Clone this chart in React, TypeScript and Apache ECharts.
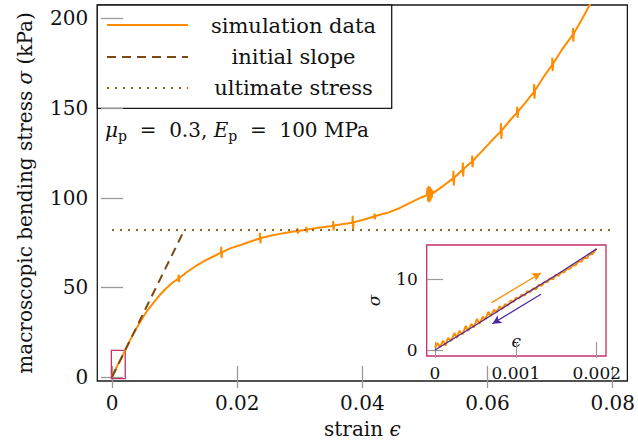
import React, { useEffect, useRef } from "react";
import * as echarts from "echarts";

const FONT = "'DejaVu Serif', serif";
const ORANGE = "#ff8c00";
const SLOPE = "#7a4a12";
const ULT = "#9a6320";
const CRIMSON = "#c2306a";
const PURPLE = "#4a2a9e";
const TICK = "#9a9a9a";

// tick values
const mainXTicks = [0, 0.02, 0.04, 0.06, 0.08];
const mainYTicks = [0, 50, 100, 150, 200];
const insetXTicks = [0, 0.001, 0.002];
const insetYTicks = [0, 10];

// initial loading segment (also shown in the inset)
const loadStrain = [0, 0.00003, 0.00006, 0.0001, 0.00013, 0.00016, 0.0002, 0.00024, 0.00027, 0.0003, 0.00034, 0.00038, 0.00041, 0.00045, 0.00048, 0.00052, 0.00055, 0.00059, 0.00062, 0.00066, 0.00069, 0.00073, 0.00076, 0.0008, 0.00083, 0.00087, 0.0009, 0.00094, 0.00097, 0.001, 0.00104, 0.00107, 0.00111, 0.00114, 0.00118, 0.00121, 0.00125, 0.00128, 0.00132, 0.00135, 0.00139, 0.00142, 0.00146, 0.00149, 0.00153, 0.00156, 0.0016, 0.00163, 0.00167, 0.0017, 0.00174, 0.00177, 0.00181, 0.00184, 0.00188, 0.00191, 0.00195, 0.00198, 0.002];
const loadStress = [0.3, 1.0, 0.4, 1.3, 0.6, 1.7, 1.3, 2.4, 1.7, 2.7, 2.2, 3.4, 2.7, 3.7, 3.2, 4.4, 3.7, 4.7, 4.3, 5.4, 4.8, 5.7, 5.3, 6.2, 5.8, 6.5, 6.3, 7.0, 6.8, 7.4, 7.3, 7.8, 7.7, 8.3, 8.2, 8.7, 8.6, 9.2, 9.1, 9.6, 9.6, 10.1, 10.0, 10.6, 10.5, 11.0, 11.0, 11.5, 11.5, 12.0, 12.0, 12.5, 12.5, 13.0, 13.0, 13.5, 13.6, 14.1, 14.3];

// rest of the simulation curve (with its short vertical jitters)
const mainStrain = [
  0.0025, 0.003, 0.004, 0.005, 0.0058, 0.0067, 0.0076, 0.0085, 0.0095,
  0.0106, 0.01065, 0.0107, 0.0108, 0.012, 0.0135, 0.015, 0.0165,
  0.0174, 0.01745, 0.0175, 0.0176, 0.019, 0.021, 0.0225,
  0.0236, 0.02365, 0.0237, 0.0238, 0.0255, 0.027, 0.0285,
  0.0296, 0.02965, 0.0297, 0.0298, 0.031, 0.03105, 0.0311, 0.0312, 0.033, 0.0345,
  0.0353, 0.03535, 0.0354, 0.0355, 0.037, 0.0384, 0.03845, 0.0385, 0.0386, 0.04,
  0.0419, 0.04195, 0.042, 0.0421, 0.044, 0.046, 0.048, 0.0495,
  0.0503, 0.0504, 0.0505, 0.0506, 0.0507, 0.0508, 0.0509, 0.051, 0.0511, 0.0512, 0.0513, 0.053,
  0.0545, 0.05455, 0.0546, 0.0547, 0.056, 0.05605, 0.0561, 0.0562, 0.0575, 0.05755, 0.0576, 0.0577,
  0.059, 0.0605, 0.0621, 0.06215, 0.0622, 0.0623, 0.0635, 0.0647, 0.06475, 0.0648, 0.0649, 0.066,
  0.0674, 0.06745, 0.0675, 0.0676, 0.069, 0.0703, 0.07035, 0.0704, 0.0705, 0.072,
  0.0736, 0.07365, 0.0737, 0.0738, 0.075, 0.0763, 0.0772,
];
const mainStress = [
  17.8, 21.3, 27.8, 33.6, 37.8, 41.8, 45.6, 49.0, 52.2,
  55.0, 57.2, 53.0, 55.4, 58.6, 62.2, 65.2, 67.8,
  69.4, 72.6, 66.4, 69.7, 71.9, 74.2, 76.0,
  77.3, 80.4, 74.6, 77.6, 79.0, 80.0, 80.9,
  81.4, 83.0, 80.0, 81.5, 82.1, 83.8, 80.6, 82.3, 83.3, 84.0,
  84.3, 87.0, 81.8, 84.5, 85.3, 86.0, 90.0, 82.4, 86.3, 87.6,
  89.5, 91.2, 88.0, 89.8, 91.6, 94.3, 97.8, 100.3,
  101.5, 105.5, 98.0, 106.5, 97.5, 106.0, 98.5, 105.0, 100.0, 104.0, 102.6, 106.8,
  110.8, 115.0, 106.8, 111.3, 115.6, 119.6, 111.8, 116.2, 120.2, 123.6, 117.0, 120.8,
  125.6, 131.2, 137.0, 141.6, 132.8, 137.7, 142.8, 147.5, 150.8, 144.6, 148.3, 152.8,
  159.0, 163.4, 155.2, 160.0, 167.6, 174.0, 178.0, 170.6, 174.9, 183.2,
  190.8, 194.6, 187.0, 191.8, 199.0, 207.5, 213.0,
];

// unloading path in the inset
const unloadStrain = [0.002, 0.0015, 0.001, 0.0005, 0];
const unloadStress = [14.3, 10.6, 7.1, 3.5, 0];

// reference lines
const slopeStrain = [0, 0.01155];
const slopeStress = [0, 82];
const ultStrain = [0, 0.08];
const ultStress = [82, 82];

// inset region and arrows (data coordinates)
const insetXRange = [-0.000103, 0.002115];
const insetYRange = [-0.85, 14.85];
const loadArrow = [[0.0007, 6.7], [0.00131, 10.9]];
const unloadArrow = [[0.00131, 7.9], [0.00071, 3.7]];

const zip = (xs: number[], ys: number[]) => xs.map((x, i) => [x, ys[i]]);

function tickAxis(extra: any) {
  return {
    type: "value",
    axisLine: { show: false },
    splitLine: { show: false },
    ...extra,
  };
}

const option: any = {
  animation: false,
  backgroundColor: "#fff",
  grid: [
    { left: 97.3, top: 5, width: 534.4, height: 381.7, show: true, borderColor: "#1a1a1a", borderWidth: 1.3, backgroundColor: "transparent" },
    { left: 426.7, top: 245, width: 179.3, height: 111, show: true, borderColor: CRIMSON, borderWidth: 1.3, backgroundColor: "#fff" },
  ],
  xAxis: [
    tickAxis({
      gridIndex: 0, min: -0.00235, max: 0.08234,
      axisTick: { inside: true, length: 11, customValues: mainXTicks, lineStyle: { color: TICK, width: 1.3 } },
      axisLabel: { customValues: mainXTicks, fontSize: 20, fontFamily: FONT, color: "#111", margin: 12 },
      name: "{n|strain }{i|ϵ}", nameLocation: "middle", nameGap: 38,
      nameTextStyle: { rich: { n: { fontSize: 20, fontFamily: FONT, color: "#111" }, i: { fontSize: 20, fontFamily: FONT, fontStyle: "italic", color: "#111" } } },
    }),
    tickAxis({
      gridIndex: 0, position: "top", min: -0.00235, max: 0.08234,
      axisTick: { inside: true, length: 11, customValues: mainXTicks, lineStyle: { color: TICK, width: 1.3 } },
      axisLabel: { show: false },
    }),
    tickAxis({
      gridIndex: 1, min: insetXRange[0], max: insetXRange[1],
      axisTick: { inside: true, length: 8, customValues: insetXTicks, lineStyle: { color: TICK, width: 1.2 } },
      axisLabel: { customValues: insetXTicks, fontSize: 17, fontFamily: FONT, color: "#111", margin: 8 },
      name: "ϵ", nameLocation: "middle", nameGap: -24,
      nameTextStyle: { fontSize: 17, fontFamily: FONT, fontStyle: "italic", color: "#111" },
    }),
    tickAxis({
      gridIndex: 1, position: "top", min: insetXRange[0], max: insetXRange[1],
      axisTick: { inside: true, length: 8, customValues: insetXTicks, lineStyle: { color: TICK, width: 1.2 } },
      axisLabel: { show: false },
    }),
  ],
  yAxis: [
    tickAxis({
      gridIndex: 0, min: -2.2, max: 207.5,
      axisTick: { inside: true, length: 11, customValues: mainYTicks, lineStyle: { color: TICK, width: 1.3 } },
      axisLabel: { customValues: mainYTicks, fontSize: 20, fontFamily: FONT, color: "#111", margin: 9 },
      name: "{n|macroscopic bending stress }{i|σ}{n| (kPa)}", nameLocation: "middle", nameGap: 62,
      nameTextStyle: { rich: { n: { fontSize: 20, fontFamily: FONT, color: "#111" }, i: { fontSize: 20, fontFamily: FONT, fontStyle: "italic", color: "#111" } } },
    }),
    tickAxis({
      gridIndex: 0, position: "right", min: -2.2, max: 207.5,
      axisTick: { inside: true, length: 11, customValues: mainYTicks, lineStyle: { color: TICK, width: 1.3 } },
      axisLabel: { show: false },
    }),
    tickAxis({
      gridIndex: 1, min: insetYRange[0], max: insetYRange[1],
      axisTick: { inside: true, length: 8, customValues: insetYTicks, lineStyle: { color: TICK, width: 1.2 } },
      axisLabel: { customValues: insetYTicks, fontSize: 17, fontFamily: FONT, color: "#111", margin: 9 },
      name: "σ", nameLocation: "middle", nameGap: 44,
      nameTextStyle: { fontSize: 17, fontFamily: FONT, fontStyle: "italic", color: "#111" },
    }),
    tickAxis({
      gridIndex: 1, position: "right", min: insetYRange[0], max: insetYRange[1],
      axisTick: { inside: true, length: 8, customValues: insetYTicks, lineStyle: { color: TICK, width: 1.2 } },
      axisLabel: { show: false },
    }),
  ],
  series: [
    {
      name: "simulation data", type: "line", xAxisIndex: 0, yAxisIndex: 0, symbol: "none", z: 3,
      data: zip(loadStrain, loadStress).concat(zip(mainStrain, mainStress)),
      lineStyle: { color: ORANGE, width: 2 },
    },
    {
      name: "initial slope", type: "line", xAxisIndex: 0, yAxisIndex: 0, symbol: "none", z: 4,
      data: zip(slopeStrain, slopeStress),
      lineStyle: { color: SLOPE, width: 2, type: [9, 6] },
    },
    {
      name: "ultimate stress", type: "line", xAxisIndex: 0, yAxisIndex: 0, symbol: "none", z: 4,
      data: zip(ultStrain, ultStress),
      lineStyle: { color: ULT, width: 2, type: [2, 6] },
      markArea: {
        silent: true,
        itemStyle: { color: "rgba(0,0,0,0)", borderColor: CRIMSON, borderWidth: 1.3 },
        data: [[{ coord: [insetXRange[0], insetYRange[0]] }, { coord: [insetXRange[1], insetYRange[1]] }]],
      },
    },
    {
      name: "inset loading", type: "line", xAxisIndex: 2, yAxisIndex: 2, symbol: "none", z: 3,
      data: zip(loadStrain, loadStress),
      lineStyle: { color: ORANGE, width: 2 },
      markLine: {
        silent: true, symbol: ["none", "arrow"], symbolSize: [7, 9],
        label: { show: false },
        lineStyle: { color: ORANGE, width: 1.2, type: "solid" },
        data: [[{ coord: loadArrow[0] }, { coord: loadArrow[1] }]],
      },
    },
    {
      name: "inset unloading", type: "line", xAxisIndex: 2, yAxisIndex: 2, symbol: "none", z: 4,
      data: zip(unloadStrain, unloadStress),
      lineStyle: { color: PURPLE, width: 1.3 },
      markLine: {
        silent: true, symbol: ["none", "arrow"], symbolSize: [7, 9],
        label: { show: false },
        lineStyle: { color: PURPLE, width: 1.2, type: "solid" },
        data: [[{ coord: unloadArrow[0] }, { coord: unloadArrow[1] }]],
      },
    },
  ],
  graphic: [
    {
      type: "group", z: 100,
      children: [
        { type: "rect", shape: { x: 97.3, y: 5, width: 294.4, height: 103.3 }, style: { fill: "#fff", stroke: "#1a1a1a", lineWidth: 1.3 } },
        { type: "line", shape: { x1: 107, y1: 25, x2: 188, y2: 25 }, style: { stroke: ORANGE, lineWidth: 2 } },
        { type: "line", shape: { x1: 107, y1: 57, x2: 188, y2: 57 }, style: { stroke: SLOPE, lineWidth: 2, lineDash: [9, 6] } },
        { type: "line", shape: { x1: 107, y1: 88, x2: 188, y2: 88 }, style: { stroke: ULT, lineWidth: 2, lineDash: [2, 6] } },
        { type: "text", x: 293.5, y: 26, style: { text: "simulation data", font: `21px ${FONT}`, fill: "#111", align: "center", verticalAlign: "middle" } },
        { type: "text", x: 293.5, y: 57, style: { text: "initial slope", font: `21px ${FONT}`, fill: "#111", align: "center", verticalAlign: "middle" } },
        { type: "text", x: 293.5, y: 88, style: { text: "ultimate stress", font: `21px ${FONT}`, fill: "#111", align: "center", verticalAlign: "middle" } },
      ],
    },
    {
      type: "text", z: 100, x: 105, y: 117,
      style: {
        text: "{i|μ}{s|p}{n|  =  0.3, }{i|E}{s|p}{n|  =  100 MPa}",
        fill: "#111",
        rich: {
          n: { fontSize: 20, fontFamily: FONT, lineHeight: 26, verticalAlign: "middle", fill: "#111" },
          i: { fontSize: 20, fontFamily: FONT, fontStyle: "italic", lineHeight: 26, verticalAlign: "middle", fill: "#111" },
          s: { fontSize: 14, fontFamily: FONT, lineHeight: 18, verticalAlign: "bottom", fill: "#111" },
        },
      },
    },
  ],
};

export default function App() {
  const ref = useRef<HTMLDivElement>(null);
  useEffect(() => {
    const chart = echarts.init(ref.current!, null, { renderer: "svg" });
    chart.setOption(option);
    return () => chart.dispose();
  }, []);
  return <div ref={ref} style={{ position: "fixed", left: 0, top: 0, width: 638, height: 444 }} />;
}
